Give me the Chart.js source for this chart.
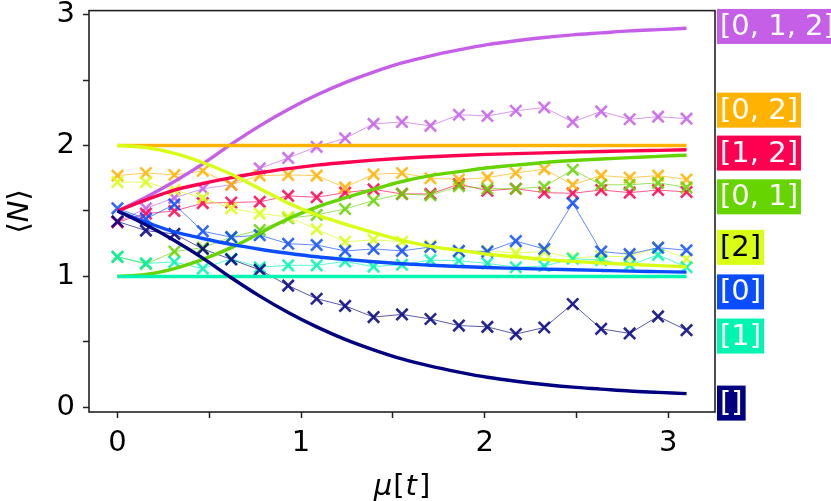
<!DOCTYPE html>
<html>
<head>
<meta charset="utf-8">
<script src="https://cdn.jsdelivr.net/npm/chart.js@4.4.1/dist/chart.umd.min.js"></script>
<style>
html, body { margin: 0; padding: 0; background: #fff; }
#wrap { width: 831px; height: 501px; position: relative; }
</style>
</head>
<body>
<div id="wrap"><canvas id="chart"></canvas></div>
<script>
// mu[t] sample points
var mu = [0, 0.155, 0.31, 0.465, 0.62, 0.775, 0.93, 1.085, 1.24, 1.395, 1.55,
          1.705, 1.86, 2.015, 2.17, 2.325, 2.48, 2.635, 2.79, 2.945, 3.1];

var subsets = ['[]', '[0]', '[1]', '[2]', '[0, 1]', '[0, 2]', '[1, 2]', '[0, 1, 2]'];
var colors = ['#000080', '#0a4cff', '#00f5b0', '#d8ff14', '#66d400', '#ffb200', '#ff0050', '#c65fe8'];
var textColors = ['#fff', '#fff', '#fff', '#000', '#fff', '#fff', '#fff', '#fff'];
// where the end labels sit (data units)
var labelY = [0.033, 0.882, 0.545, 1.222, 1.608, 2.27, 1.942, 2.909];

var xTicks = [0, 0.5, 1, 1.5, 2, 2.5, 3];
var xTickLabels = ['0', '', '1', '', '2', '', '3'];
var yTicks = [0, 0.5, 1, 1.5, 2, 2.5, 3];
var yTickLabels = ['0', '', '1', '', '2', '', '3'];

// exact curves
var curveE   = [1.50, 1.395, 1.275, 1.14, 0.99, 0.85, 0.725, 0.615, 0.52, 0.44, 0.37, 0.315, 0.27, 0.23, 0.20, 0.175, 0.155, 0.14, 0.125, 0.115, 0.105];
var curve0   = [1.50, 1.415, 1.34, 1.29, 1.245, 1.208, 1.177, 1.15, 1.13, 1.112, 1.097, 1.086, 1.076, 1.068, 1.062, 1.056, 1.051, 1.046, 1.041, 1.037, 1.033];
var curve1   = [1, 1, 1, 1, 1, 1, 1, 1, 1, 1, 1, 1, 1, 1, 1, 1, 1, 1, 1, 1, 1];
var curve2   = [2.00, 1.985, 1.94, 1.87, 1.78, 1.67, 1.56, 1.47, 1.40, 1.335, 1.275, 1.23, 1.20, 1.17, 1.15, 1.13, 1.115, 1.103, 1.093, 1.083, 1.074];
var curve01  = [1.00, 1.015, 1.06, 1.13, 1.22, 1.33, 1.44, 1.53, 1.60, 1.665, 1.725, 1.77, 1.80, 1.83, 1.85, 1.87, 1.885, 1.897, 1.907, 1.917, 1.926];
var curve02  = [2, 2, 2, 2, 2, 2, 2, 2, 2, 2, 2, 2, 2, 2, 2, 2, 2, 2, 2, 2, 2];
var curve12  = [1.50, 1.585, 1.66, 1.71, 1.755, 1.792, 1.823, 1.85, 1.87, 1.888, 1.903, 1.914, 1.924, 1.932, 1.938, 1.944, 1.949, 1.954, 1.959, 1.963, 1.967];
var curve012 = [1.50, 1.605, 1.725, 1.86, 2.01, 2.15, 2.275, 2.385, 2.48, 2.56, 2.63, 2.685, 2.73, 2.77, 2.80, 2.825, 2.845, 2.86, 2.875, 2.885, 2.895];

// measured points
var measE   = [1.42, 1.35, 1.325, 1.21, 1.13, 1.05, 0.93, 0.83, 0.775, 0.69, 0.71, 0.675, 0.625, 0.615, 0.56, 0.61, 0.79, 0.60, 0.565, 0.695, 0.59];
var meas0   = [1.52, 1.44, 1.55, 1.345, 1.30, 1.315, 1.25, 1.24, 1.195, 1.21, 1.195, 1.225, 1.195, 1.19, 1.27, 1.21, 1.56, 1.19, 1.17, 1.22, 1.20];
var meas1   = [1.15, 1.10, 1.11, 1.06, 1.135, 1.07, 1.085, 1.085, 1.115, 1.075, 1.09, 1.125, 1.12, 1.10, 1.07, 1.08, 1.135, 1.125, 1.085, 1.165, 1.07];
var meas2   = [1.72, 1.72, 1.66, 1.60, 1.52, 1.48, 1.455, 1.36, 1.265, 1.28, 1.265, 1.235, 1.19, 1.195, 1.18, 1.19, 1.14, 1.155, 1.15, 1.22, 1.135];
var meas01  = [1.15, 1.095, 1.19, 1.22, 1.30, 1.355, 1.445, 1.47, 1.515, 1.58, 1.63, 1.62, 1.69, 1.67, 1.67, 1.685, 1.815, 1.70, 1.70, 1.715, 1.68];
var meas02  = [1.77, 1.79, 1.775, 1.805, 1.70, 1.77, 1.775, 1.77, 1.68, 1.78, 1.79, 1.75, 1.74, 1.755, 1.79, 1.82, 1.70, 1.77, 1.755, 1.77, 1.74];
var meas12  = [1.415, 1.48, 1.50, 1.56, 1.565, 1.57, 1.615, 1.605, 1.64, 1.665, 1.63, 1.63, 1.705, 1.655, 1.67, 1.64, 1.635, 1.66, 1.64, 1.66, 1.645];
var meas012 = [1.415, 1.52, 1.60, 1.67, 1.70, 1.825, 1.905, 1.99, 2.055, 2.165, 2.18, 2.15, 2.235, 2.225, 2.265, 2.29, 2.18, 2.26, 2.20, 2.22, 2.205];

var curves = [curveE, curve0, curve1, curve2, curve01, curve02, curve12, curve012];
var meas = [measE, meas0, meas1, meas2, meas01, meas02, meas12, meas012];

var FONT = 'DejaVu Sans';
var AXIS = '#222';

function toPoints(ys)
{
    var pts = [];
    for (var i = 0; i < mu.length; i++) {
        pts.push({ x: mu[i], y: ys[i] });
    }
    return pts;
}

function fade(hex, a)
{
    var r = parseInt(hex.substr(1, 2), 16);
    var g = parseInt(hex.substr(3, 2), 16);
    var b = parseInt(hex.substr(5, 2), 16);
    return 'rgba(' + r + ',' + g + ',' + b + ',' + a + ')';
}

var datasets = [];
for (var k = 0; k < subsets.length; k++) {
    datasets.push({
        label: subsets[k] + ' sim',
        data: toPoints(meas[k]),
        borderColor: fade(colors[k], 0.65),
        borderWidth: 1,
        pointStyle: 'crossRot',
        pointRadius: 8,
        pointBorderWidth: 2.6,
        pointBorderColor: fade(colors[k], 0.85),
        pointBackgroundColor: 'transparent',
        order: 2
    });
}
for (var k = 0; k < subsets.length; k++) {
    datasets.push({
        label: subsets[k],
        data: toPoints(curves[k]),
        borderColor: colors[k],
        borderWidth: 3.4,
        pointRadius: 0,
        cubicInterpolationMode: 'monotone',
        order: 1
    });
}

function drawPieces(ctx, pieces, size, cx, baseY)
{
    var total = 0;
    for (var i = 0; i < pieces.length; i++) {
        ctx.font = (pieces[i].it ? 'italic ' : '') + size + 'px "' + FONT + '"';
        pieces[i].w = ctx.measureText(pieces[i].t).width + (pieces[i].gap || 0);
        total += pieces[i].w;
    }
    var x = cx - total / 2;
    for (var i = 0; i < pieces.length; i++) {
        ctx.font = (pieces[i].it ? 'italic ' : '') + size + 'px "' + FONT + '"';
        ctx.fillText(pieces[i].t, x, baseY);
        x += pieces[i].w;
    }
}

var decorations = {
    id: 'decorations',
    afterDraw: function(chart) {
        var ctx = chart.ctx;
        var a = chart.chartArea;
        var ys = chart.scales.y;

        // frame
        ctx.save();
        ctx.strokeStyle = AXIS;
        ctx.lineWidth = 1.6;
        ctx.strokeRect(a.left, a.top, a.right - a.left, a.bottom - a.top);
        ctx.restore();

        // end labels
        ctx.save();
        ctx.font = '29px "' + FONT + '"';
        ctx.textBaseline = 'middle';
        ctx.textAlign = 'left';
        for (var k = 0; k < subsets.length; k++) {
            var cy = ys.getPixelForValue(labelY[k]);
            var w = ctx.measureText(subsets[k]).width;
            ctx.fillStyle = colors[k];
            ctx.fillRect(a.right + 2, cy - 17.5, w + 6, 35);
            ctx.fillStyle = textColors[k];
            ctx.fillText(subsets[k], a.right + 5, cy + 1);
        }
        ctx.restore();

        // axis titles
        ctx.save();
        ctx.fillStyle = '#000';
        ctx.textBaseline = 'alphabetic';
        drawPieces(ctx, [
            { t: '\u03bc', it: true, gap: 1 },
            { t: '[', it: false, gap: 1 },
            { t: 't', it: true, gap: 2 },
            { t: ']', it: false }
        ], 29, (a.left + a.right) / 2, 495);

        ctx.translate(28, (a.top + a.bottom) / 2);
        ctx.rotate(-Math.PI / 2);
        drawPieces(ctx, [
            { t: '\u27e8', it: false },
            { t: 'N', it: true },
            { t: '\u27e9', it: false }
        ], 29, 0, 0);
        ctx.restore();
    }
};

Chart.defaults.font.family = FONT;

var chart = new Chart(document.getElementById('chart'), {
    type: 'line',
    data: { datasets: datasets },
    options: {
        responsive: true,
        maintainAspectRatio: false,
        animation: false,
        layout: { padding: { top: 6, right: 116, left: 0, bottom: 0 } },
        plugins: {
            legend: { display: false },
            tooltip: { enabled: false }
        },
        scales: {
            x: {
                type: 'linear',
                min: -0.155,
                max: 3.255,
                afterBuildTicks: function(s) {
                    s.ticks = xTicks.map(function(v) { return { value: v }; });
                },
                afterFit: function(s) {
                    s.height = 89;
                    s.paddingLeft = 0;
                    s.paddingRight = 0;
                },
                ticks: {
                    autoSkip: false,
                    maxRotation: 0,
                    padding: 8,
                    color: '#000',
                    font: { size: 29 },
                    callback: function(v, i) { return xTickLabels[i]; }
                },
                grid: { drawOnChartArea: false, drawTicks: true, tickLength: 6, tickWidth: 1.5, tickColor: AXIS },
                border: { display: false }
            },
            y: {
                type: 'linear',
                min: -0.035,
                max: 3.03,
                afterBuildTicks: function(s) {
                    s.ticks = yTicks.map(function(v) { return { value: v }; });
                },
                afterFit: function(s) {
                    s.width = 89;
                    s.paddingTop = 0;
                    s.paddingBottom = 0;
                },
                ticks: {
                    autoSkip: false,
                    padding: 8,
                    color: '#000',
                    font: { size: 29 },
                    callback: function(v, i) { return yTickLabels[i]; }
                },
                grid: { drawOnChartArea: false, drawTicks: true, tickLength: 6, tickWidth: 1.5, tickColor: AXIS },
                border: { display: false }
            }
        }
    },
    plugins: [decorations]
});
</script>
</body>
</html>
